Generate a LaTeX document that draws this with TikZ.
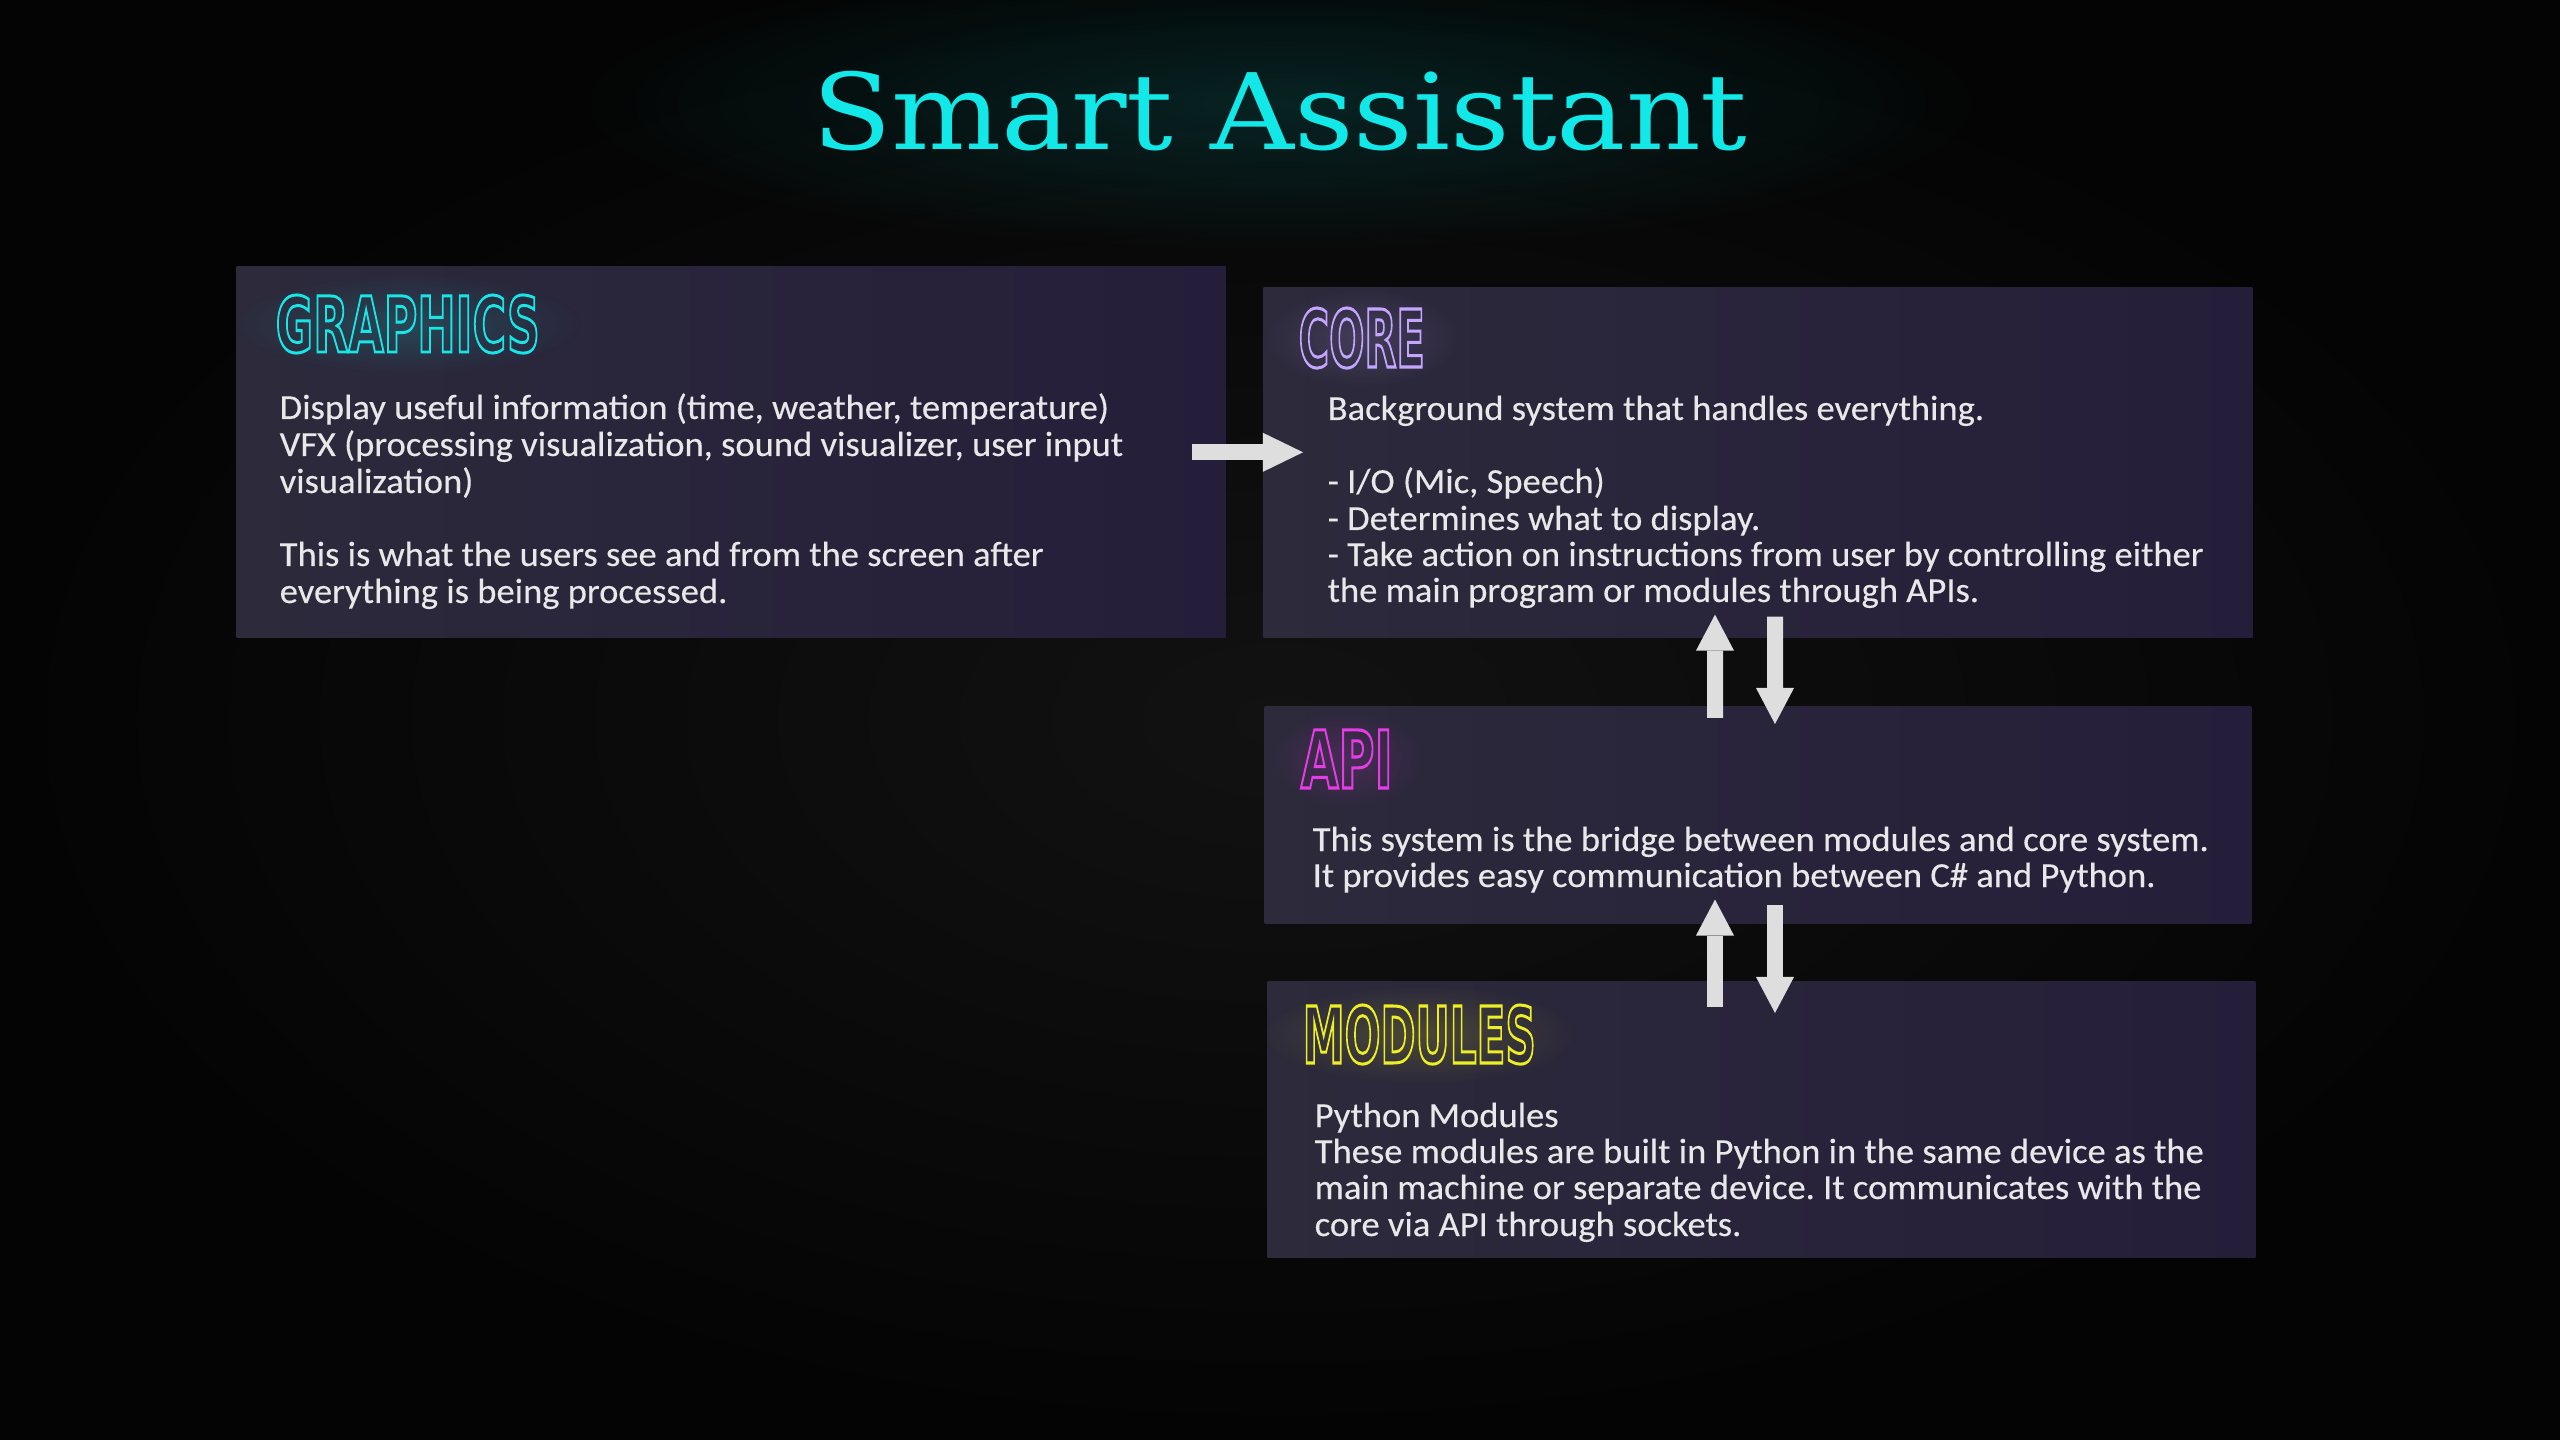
\documentclass[tikz,border=0pt]{standalone}
\usepackage{fontspec}
\usepackage{graphicx}
\usetikzlibrary{arrows.meta,calc,fadings}
\setmainfont{Carlito}[FakeStretch=1.04, FakeBold=0.3]
\newfontfamily\titlefont{DejaVu Serif}
\newfontfamily\headfont{DejaVu Sans}
\frenchspacing

\definecolor{bgcore}{HTML}{121212}
\definecolor{bgrim}{HTML}{040404}
\definecolor{panelL}{HTML}{2C2A3B}
\definecolor{panelR}{HTML}{251E3A}
\definecolor{inkbody}{HTML}{E8E8E8}
\definecolor{arrowgray}{HTML}{DEDEDE}
\definecolor{titlecyan}{HTML}{12E8E8}
\definecolor{graphicscyan}{HTML}{18E6E6}
\definecolor{corelilac}{HTML}{C4A6FF}
\definecolor{apimagenta}{HTML}{E63CE6}
\definecolor{moduleyellow}{HTML}{EEEE24}

% soft radial falloff used for the neon halos
\tikzfading[name=softglow, inner color=transparent!0, outer color=transparent!100]

\pgfdeclarelayer{backdrop}
\pgfdeclarelayer{halo}
\pgfsetlayers{backdrop,halo,main}

% outlined (stroked) heading lettering, squeezed to a given width and cap height
\newcommand\neonhead[3]{\resizebox{#2}{#3}{\headfont\bfseries\fontsize{22}{22}\selectfont
  \special{pdf:literal direct 1 Tr 0.85 w}#1\special{pdf:literal direct 0 Tr}}}

\tikzset{
  panel/.style={anchor=north west, inner sep=0pt, draw=none,
    left color=panelL, right color=panelR},
  body/.style={anchor=base west, inner sep=0pt, text=inkbody,
    font=\fontsize{10}{10.4}\selectfont},
  heading/.style={anchor=base west, inner sep=0pt},
  flow/.style={draw=arrowgray, line width=0.16cm,
    -{Triangle[width=0.38cm,length=0.36cm,line width=0pt]}},
}

\begin{document}
\begin{tikzpicture}[x=0.01cm, y=-0.01cm]
\useasboundingbox (0,0) rectangle (2560,1440);

\begin{pgfonlayer}{backdrop}
  \shade[inner color=bgcore, outer color=bgrim] (0,0) rectangle (2560,1440);
  \node[panel, minimum width=9.88cm, minimum height=3.71cm] (graphics) at (236,266) {};
  \node[panel, minimum width=9.88cm, minimum height=3.50cm] (core) at (1263,287) {};
  \node[panel, minimum width=9.86cm, minimum height=2.17cm] (api) at (1264,706) {};
  \node[panel, minimum width=9.87cm, minimum height=2.76cm] (modules) at (1267,981) {};
\end{pgfonlayer}

% title
\node[anchor=base, inner sep=0pt, text=titlecyan] (title) at (1280,150)
  {\resizebox{9.35cm}{\height}{\titlefont\fontsize{30}{30}\selectfont Smart Assistant}};

% headings
\node[heading, text=graphicscyan] (hgraphics) at (275,352) {\neonhead{GRAPHICS}{2.64cm}{0.57cm}};
\node[heading, text=corelilac] (hcore) at (1298,367) {\neonhead{CORE}{1.26cm}{0.59cm}};
\node[heading, text=apimagenta] (hapi) at (1300,788) {\neonhead{API}{0.92cm}{0.58cm}};
\node[heading, text=moduleyellow] (hmodules) at (1302,1063) {\neonhead{MODULES}{2.33cm}{0.58cm}};

\begin{pgfonlayer}{halo}
  \fill[titlecyan, opacity=0.13, path fading=softglow] ($(title.center)+(0,-8)$) ellipse (7.2cm and 1.5cm);
  \fill[graphicscyan, opacity=0.16, path fading=softglow] (hgraphics.center) ellipse (1.75cm and 0.5cm);
  \fill[corelilac, opacity=0.16, path fading=softglow] (hcore.center) ellipse (1.0cm and 0.5cm);
  \fill[apimagenta, opacity=0.16, path fading=softglow] (hapi.center) ellipse (0.8cm and 0.5cm);
  \fill[moduleyellow, opacity=0.16, path fading=softglow] (hmodules.center) ellipse (1.6cm and 0.5cm);
\end{pgfonlayer}

% GRAPHICS text
\node[body] (g1) at (279,419) {Display useful information (time, weather, temperature)};
\node[body] (g2) at (279,456) {VFX (processing visualization, sound visualizer, user input};
\node[body] (g3) at (279,493) {visualization)};
\node[body] (g4) at (279,566) {This is what the users see and from the screen after};
\node[body] (g5) at (279,603) {everything is being processed.};

% CORE text
\node[body] (c1) at (1327,420) {Background system that handles everything.};
\node[body] (c2) at (1327,493) {- I/O (Mic, Speech)};
\node[body] (c3) at (1327,530) {- Determines what to display.};
\node[body] (c4) at (1327,566) {- Take action on instructions from user by controlling either};
\node[body] (c5) at (1327,602) {the main program or modules through APIs.};

% API text
\node[body] (a1) at (1312,851) {This system is the bridge between modules and core system.};
\node[body] (a2) at (1312,887) {It provides easy communication between C\# and Python.};

% MODULES text
\node[body] (m1) at (1314,1127) {Python Modules};
\node[body] (m2) at (1314,1163) {These modules are built in Python in the same device as the};
\node[body] (m3) at (1314,1199) {main machine or separate device. It communicates with the};
\node[body] (m4) at (1314,1236) {core via API through sockets.};

% connectors
\draw[flow, -{Triangle[width=0.39cm,length=0.40cm,line width=0pt]}]
  ($(graphics.east)+(-34,0)$) -- ($(graphics.east -| core.west)+(40,0)$);
\draw[flow] ($(core.south)+(17,-22)$) -- ($(api.north)+(17,18)$);
\draw[flow] ($(api.north)+(-43,12)$) -- ($(core.south)+(-43,-24)$);
\draw[flow] ($(api.south)+(17,-20)$) -- ($(api.south |- modules.north)+(17,32)$);
\draw[flow] ($(api.south |- modules.north)+(-43,26)$) -- ($(api.south)+(-43,-25)$);
\end{tikzpicture}
\end{document}
